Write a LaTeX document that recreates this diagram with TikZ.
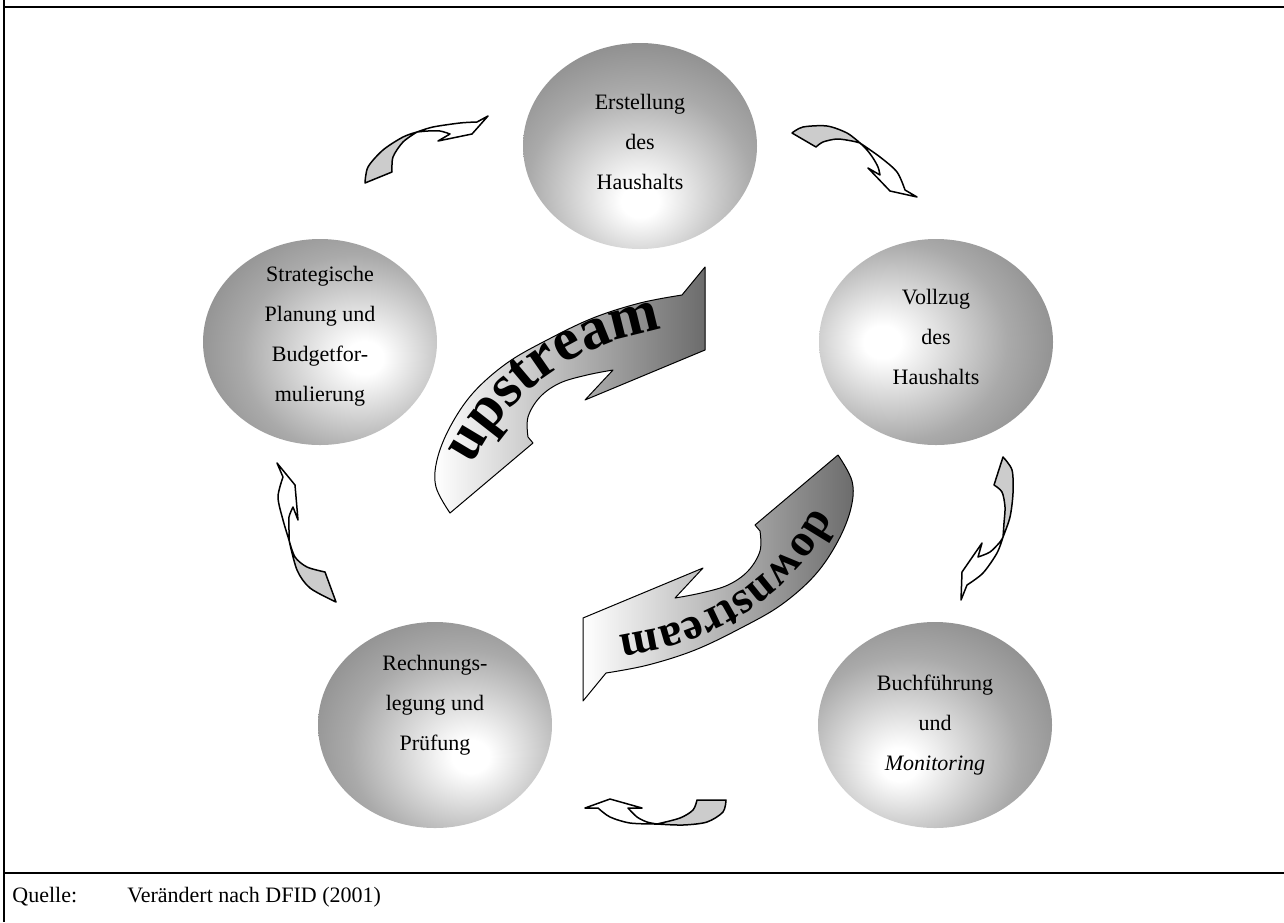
\documentclass[tikz,border=0pt]{standalone}
\usepackage{fontspec}
\setmainfont{Liberation Serif}
\usetikzlibrary{shapes.geometric,decorations.text}
\definecolor{ballgray}{RGB}{112,112,112}
\definecolor{ballmid}{RGB}{170,170,170}
\definecolor{arrowgray}{RGB}{108,108,108}
\definecolor{backgray}{RGB}{204,204,204}
\pgfdeclareradialshading{ballE}{\pgfpoint{0bp}{-14bp}}{color(0bp)=(white); color(4bp)=(white); color(24bp)=(ballmid); color(46bp)=(ballgray); color(90bp)=(ballgray)}
\pgfdeclareradialshading{ballV}{\pgfpoint{-12bp}{0bp}}{color(0bp)=(white); color(4bp)=(white); color(24bp)=(ballmid); color(46bp)=(ballgray); color(90bp)=(ballgray)}
\pgfdeclareradialshading{ballS}{\pgfpoint{10bp}{-4bp}}{color(0bp)=(white); color(4bp)=(white); color(24bp)=(ballmid); color(46bp)=(ballgray); color(90bp)=(ballgray)}
\pgfdeclareradialshading{ballR}{\pgfpoint{8bp}{-8bp}}{color(0bp)=(white); color(4bp)=(white); color(24bp)=(ballmid); color(46bp)=(ballgray); color(90bp)=(ballgray)}
\pgfdeclareradialshading{ballB}{\pgfpoint{-8bp}{-10bp}}{color(0bp)=(white); color(4bp)=(white); color(24bp)=(ballmid); color(46bp)=(ballgray); color(90bp)=(ballgray)}
\begin{document}
\begin{tikzpicture}[x=0.5pt,y=-0.5pt,
  ball/.style={ellipse, minimum width=117pt, minimum height=103pt, inner sep=0pt},
  balltext/.style={align=center, inner sep=0pt, font=\fontsize{11}{20}\selectfont},
  bigarr/.style={draw=black, line width=0.5pt, line join=round, left color=white, right color=arrowgray},
  backface/.style={draw=black, line width=0.75pt, fill=backgray, line join=round},
  frontface/.style={draw=black, line width=0.75pt, fill=white, line join=round},
  frameline/.style={line width=1pt},
  srctext/.style={anchor=west, inner sep=0pt, font=\fontsize{11}{13}\selectfont}]
\useasboundingbox (0,0) rectangle (1284,922);
% frame
\draw[frameline] (4,0) -- (4,922);
\draw[frameline] (4,7) -- (1284,7);
\draw[frameline] (4,873) -- (1284,873);
% ellipses
\node[ball, shading=ballE] (erst) at (640,146) {};
\node[ball, shading=ballV] (vollz) at (936,342) {};
\node[ball, shading=ballS] (strat) at (320,342) {};
\node[ball, shading=ballR] (rech) at (435,725) {};
\node[ball, shading=ballB] (buch) at (935,725) {};
\node[balltext] (erst-t) at (640,142) {Erstellung\\des\\Haushalts};
\node[balltext] (vollz-t) at (936,337) {Vollzug\\des\\Haushalts};
\node[balltext] (strat-t) at (320,336) {Strategische\\Planung und\\Budgetfor-\\mulierung};
\node[balltext] (rech-t) at (435,705) {Rechnungs-\\legung und\\Prüfung};
\node[balltext] (buch-t) at (935,725) {Buchführung\\und\\\textit{Monitoring}};
% big arrows
\path[bigarr] (450,513) -- plot[smooth,tension=0.6] coordinates {(450,513) (436,487) (437,460) (450,427) (473,393) (507,363) (547,340) (593,318) (640,303) (682,295)} -- (705,267) -- (705,350) -- (585,400) -- (613,370) -- plot[smooth,tension=0.6] coordinates {(613,370) (587,375) (560,383) (540,397) (528,417) (528,437)} -- (533,443) -- cycle;
\path[bigarr, rotate around={180:(644,484)}] (450,513) -- plot[smooth,tension=0.6] coordinates {(450,513) (436,487) (437,460) (450,427) (473,393) (507,363) (547,340) (593,318) (640,303) (682,295)} -- (705,267) -- (705,350) -- (585,400) -- (613,370) -- plot[smooth,tension=0.6] coordinates {(613,370) (587,375) (560,383) (540,397) (528,417) (528,437)} -- (533,443) -- cycle;
\path[decorate, decoration={text along path, text={|\bfseries\fontsize{30}{30}\selectfont|upstream}, text align=center}] (471,466) .. controls (505,400) and (565,345) .. (664,329);
\path[decorate, decoration={text along path, text={|\bfseries\fontsize{23}{23}\selectfont|downstream}, text align=center}] (818,501) .. controls (783,568) and (723,623) .. (612,636);
% small arrows
\path[backface] (365,183) -- (392,172) -- plot[smooth] coordinates {(392,172) (393,157) (403,142) (417,132)} -- plot[smooth] coordinates {(417,132) (403,137) (383,150) (368,167) (365,183)} -- cycle;
\path[frontface] (417,132) -- plot[smooth] coordinates {(417,132) (433,127) (460,123) (477,122)} -- (488,116) -- (472,134) -- (438,141) -- (450,134) -- plot[smooth] coordinates {(450,134) (440,131) (428,131) (417,132)} -- cycle;
\path[backface] (792,133) -- (816,147) -- plot[smooth] coordinates {(816,147) (823,142) (837,139) (852,141) (860,143)} -- plot[smooth] coordinates {(860,143) (847,133) (827,126) (803,127) (792,133)} -- cycle;
\path[frontface] (860,143) -- plot[smooth] coordinates {(860,143) (880,157) (897,172) (905,190)} -- (917,197) -- (890,191) -- (868,168) -- (880,175) -- plot[smooth] coordinates {(880,175) (878,167) (873,158) (867,150) (860,143)} -- cycle;
\path[backface] (1003,457) -- (994,485) -- plot[smooth] coordinates {(994,485) (1002,492) (1005,507) (1004,523) (1003,537)} -- plot[smooth] coordinates {(1003,537) (1010,517) (1013,493) (1012,470) (1003,457)} -- cycle;
\path[frontface] (1003,537) -- plot[smooth] coordinates {(1003,537) (997,553) (983,573) (967,585)} -- (961,600) -- (962,572) -- (982,543) -- (978,557) -- plot[smooth] coordinates {(978,557) (990,552) (1000,542) (1003,537)} -- cycle;
\path[backface] (325,572) -- (336,602) -- plot[smooth] coordinates {(336,602) (310,588) (297,570) (289,540)} -- plot[smooth] coordinates {(289,540) (295,557) (307,567) (325,572)} -- cycle;
\path[frontface] (289,540) -- plot[smooth] coordinates {(289,540) (283,520) (278,497) (283,477)} -- (277,463) -- (295,485) -- (298,520) -- (293,507) -- plot[smooth] coordinates {(293,507) (289,517) (289,530) (289,540)} -- cycle;
\path[backface] (697,800) -- (726,800) -- plot[smooth] coordinates {(726,800) (723,812) (707,822) (683,825) (657,824)} -- plot[smooth] coordinates {(657,824) (680,818) (693,810) (697,800)} -- cycle;
\path[frontface] (657,824) -- plot[smooth] coordinates {(657,824) (630,823) (610,817) (598,808)} -- (585,808) -- (610,799) -- (642,808) -- (628,808) -- plot[smooth] coordinates {(628,808) (637,817) (647,822) (657,824)} -- cycle;
% source
\node[srctext] (q) at (12,897) {Quelle:};
\node[srctext] (src) at (127,897) {Verändert nach DFID (2001)};
\end{tikzpicture}
\end{document}
